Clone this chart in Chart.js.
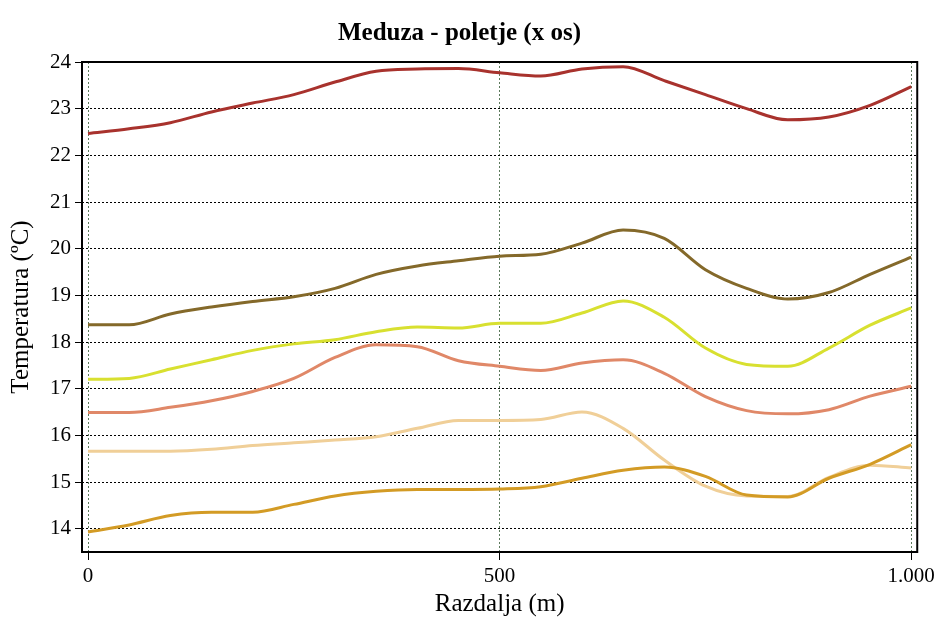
<!DOCTYPE html>
<html>
<head>
<meta charset="utf-8">
<title>Meduza - poletje (x os)</title>
<script src="https://cdn.jsdelivr.net/npm/chart.js@4/dist/chart.umd.min.js"></script>
<style>
  html, body { margin: 0; padding: 0; background: #fff; }
  #wrap { width: 939px; height: 622px; }
</style>
</head>
<body>
<div id="wrap"><canvas id="tempChart" width="939" height="622"></canvas></div>
<script>
// Distance along the x axis (m)
const distances = [0, 50, 100, 150, 200, 250, 300, 350, 400, 450, 500, 550, 600, 650, 700, 750, 800, 850, 900, 950, 1000];

// Temperature series (°C)
const seriesRed    = [22.47, 22.57, 22.70, 22.93, 23.12, 23.30, 23.57, 23.80, 23.85, 23.86, 23.77, 23.70, 23.85, 23.90, 23.60, 23.30, 23.00, 22.76, 22.82, 23.07, 23.47];
const seriesOlive  = [18.37, 18.37, 18.60, 18.75, 18.87, 18.97, 19.15, 19.45, 19.63, 19.74, 19.84, 19.88, 20.12, 20.40, 20.22, 19.55, 19.15, 18.92, 19.06, 19.45, 19.82];
const seriesLime   = [17.20, 17.22, 17.42, 17.62, 17.82, 17.96, 18.05, 18.22, 18.32, 18.30, 18.40, 18.40, 18.62, 18.88, 18.53, 17.87, 17.52, 17.48, 17.87, 18.36, 18.73];
const seriesSalmon = [16.49, 16.49, 16.60, 16.74, 16.94, 17.22, 17.67, 17.94, 17.90, 17.60, 17.48, 17.39, 17.55, 17.62, 17.33, 16.83, 16.53, 16.46, 16.55, 16.84, 17.05];
const seriesTan    = [15.66, 15.66, 15.66, 15.70, 15.78, 15.84, 15.90, 15.97, 16.15, 16.32, 16.32, 16.34, 16.50, 16.15, 15.47, 14.91, 14.70, 14.69, 15.10, 15.36, 15.30];
const seriesGold   = [13.93, 14.08, 14.28, 14.35, 14.35, 14.52, 14.70, 14.80, 14.84, 14.84, 14.85, 14.90, 15.08, 15.25, 15.32, 15.12, 14.72, 14.68, 15.08, 15.38, 15.80];

// Axis ticks
const xTickValues = [0, 500, 1000];
const xTickLabels = ["0", "500", "1.000"];
const yTickValues = [14, 15, 16, 17, 18, 19, 20, 21, 22, 23, 24];

const serif = "'Liberation Serif', 'Times New Roman', serif";

function toPoints(values) {
    return distances.map((d, i) => ({ x: d, y: values[i] }));
}

function line(data, color) {
    return {
        data: toPoints(data),
        borderColor: color,
        backgroundColor: color,
        borderWidth: 3,
        pointRadius: 0,
        cubicInterpolationMode: "monotone",
        fill: false
    };
}

// solid frame round the plot area
const frame = {
    id: "frame",
    afterDatasetsDraw(chart) {
        const a = chart.chartArea;
        const c = chart.ctx;
        c.save();
        c.strokeStyle = "#000";
        c.lineWidth = 2;
        c.strokeRect(a.left, a.top, a.right - a.left, a.bottom - a.top);
        c.restore();
    }
};

const ctx = document.getElementById("tempChart").getContext("2d");
new Chart(ctx, {
    type: "line",
    data: {
        datasets: [
            line(seriesGold, "#d39b25"),
            line(seriesTan, "#f0cf98"),
            line(seriesSalmon, "#e08868"),
            line(seriesLime, "#d8e030"),
            line(seriesOlive, "#84692a"),
            line(seriesRed, "#a8322d")
        ]
    },
    options: {
        responsive: false,
        animation: false,
        layout: { padding: { left: 0, right: 20, top: 0, bottom: 0 } },
        plugins: {
            legend: { display: false },
            tooltip: { enabled: false },
            title: {
                display: true,
                text: "Meduza - poletje (x os)",
                color: "#000",
                font: { family: serif, size: 25, weight: "bold" },
                padding: { top: 19, bottom: 13 }
            }
        },
        scales: {
            x: {
                type: "linear",
                min: -7.3,
                max: 1007.3,
                afterBuildTicks(scale) {
                    scale.ticks = xTickValues.map(v => ({ value: v }));
                },
                afterFit(scale) { scale.height = 70; },
                ticks: {
                    color: "#000",
                    font: { family: serif, size: 21 },
                    padding: 4,
                    maxRotation: 0,
                    callback: v => xTickLabels[xTickValues.indexOf(v)]
                },
                grid: {
                    color: "#5c7a5c",
                    tickColor: "#000",
                    tickLength: 8,
                    tickBorderDash: []
                },
                border: { display: false, dash: [2, 2] },
                title: {
                    display: true,
                    text: "Razdalja (m)",
                    color: "#000",
                    font: { family: serif, size: 25 },
                    padding: { top: 0, bottom: 3 }
                }
            },
            y: {
                min: 13.5,
                max: 24,
                afterBuildTicks(scale) {
                    scale.ticks = yTickValues.map(v => ({ value: v }));
                },
                afterFit(scale) { scale.width = 82; },
                ticks: {
                    color: "#000",
                    font: { family: serif, size: 21 },
                    padding: 4
                },
                grid: {
                    color: "#000",
                    tickColor: "#000",
                    tickLength: 7,
                    tickBorderDash: []
                },
                border: { display: false, dash: [2, 2] },
                title: {
                    display: true,
                    text: "Temperatura (ºC)",
                    color: "#000",
                    font: { family: serif, size: 25 },
                    padding: { top: 6, bottom: 0 }
                }
            }
        }
    },
    plugins: [frame]
});
</script>
</body>
</html>
